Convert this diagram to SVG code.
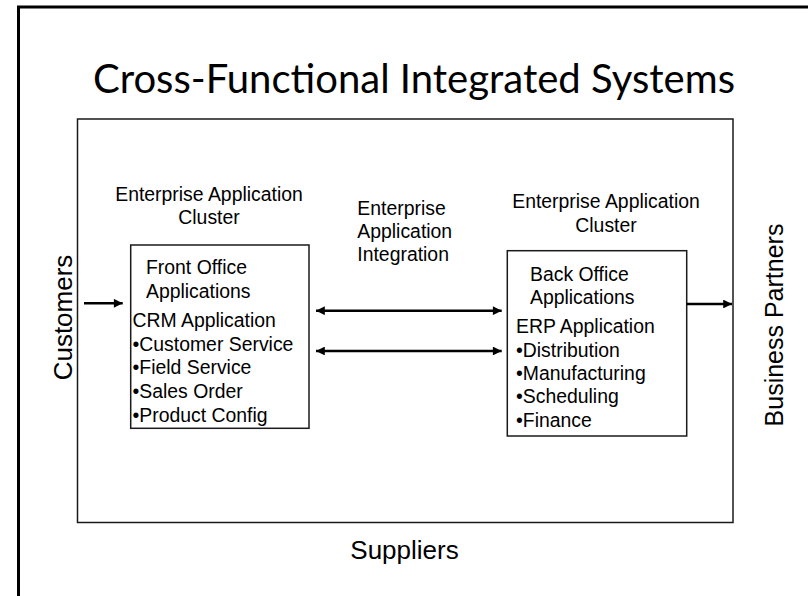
<svg xmlns="http://www.w3.org/2000/svg" width="808" height="596" viewBox="0 0 808 596">
<defs>
<style>
.t{font-family:"Liberation Sans",Arial,sans-serif;font-size:19.4px;fill:#000}
.big{font-family:"Liberation Sans",Arial,sans-serif;font-size:26px;fill:#000}
.title{font-family:Lato,"Open Sans",sans-serif;font-size:40px;fill:#000}
.box{fill:#fff;stroke:#1a1a1a;stroke-width:1.5}
.c{stroke:#000;stroke-width:2.6;fill:none}
</style>
<marker id="ah" viewBox="0 0 10 10" refX="10" refY="5" markerWidth="4" markerHeight="3.4" markerUnits="strokeWidth" orient="auto-start-reverse">
<path d="M0,0 L10,5 L0,10 z" fill="#000"/>
</marker>
</defs>
<rect width="808" height="596" fill="#fff"/>
<rect x="18.5" y="7" width="800" height="600" fill="none" stroke="#000" stroke-width="3"/>
<text class="title" x="414" y="93" text-anchor="middle" textLength="642" lengthAdjust="spacingAndGlyphs">Cross-Functional Integrated Systems</text>
<g id="frame">
<rect class="box" x="77.5" y="119" width="655.5" height="403.5"/>
</g>
<g id="front-header">
<text class="t" x="209" y="200.7" text-anchor="middle">Enterprise Application</text>
<text class="t" x="209" y="224" text-anchor="middle">Cluster</text>
</g>
<g id="back-header">
<text class="t" x="606" y="208.3" text-anchor="middle">Enterprise Application</text>
<text class="t" x="606" y="231.7" text-anchor="middle">Cluster</text>
</g>
<g id="eai-label">
<text class="t" x="357.3" y="215">Enterprise</text>
<text class="t" x="357.3" y="238.3">Application</text>
<text class="t" x="357.3" y="261">Integration</text>
</g>
<g id="front-office">
<rect class="box" x="130.7" y="245" width="178.3" height="183.3"/>
<text class="t" x="146" y="274">Front Office</text>
<text class="t" x="146" y="297.7">Applications</text>
<text class="t" x="132.5" y="326.7">CRM Application</text>
<text class="t" x="132.5" y="350.7">•Customer Service</text>
<text class="t" x="132.5" y="374">•Field Service</text>
<text class="t" x="132.5" y="397.7">•Sales Order</text>
<text class="t" x="132.5" y="421.5">•Product Config</text>
</g>
<g id="back-office">
<rect class="box" x="507.3" y="250.7" width="179.4" height="185.3"/>
<text class="t" x="530" y="280.7">Back Office</text>
<text class="t" x="530" y="304">Applications</text>
<text class="t" x="516" y="333.3">ERP Application</text>
<text class="t" x="516" y="356.7">•Distribution</text>
<text class="t" x="516" y="380">•Manufacturing</text>
<text class="t" x="516" y="403.3">•Scheduling</text>
<text class="t" x="516" y="426.7">•Finance</text>
</g>
<g id="customers">
<text class="big" transform="translate(71.5,317.5) rotate(-90)" text-anchor="middle">Customers</text>
</g>
<g id="business-partners">
<text class="big" transform="translate(783,325) rotate(-90)" text-anchor="middle" style="font-size:25px">Business Partners</text>
</g>
<g id="suppliers">
<text class="big" x="404.5" y="559.3" text-anchor="middle">Suppliers</text>
</g>
<g id="connectors">
<line class="c" x1="84" y1="303.3" x2="122.7" y2="303.3" marker-end="url(#ah)"/>
<line class="c" x1="316" y1="310.7" x2="501.7" y2="310.7" marker-start="url(#ah)" marker-end="url(#ah)"/>
<line class="c" x1="316" y1="351" x2="501.7" y2="351" marker-start="url(#ah)" marker-end="url(#ah)"/>
<line class="c" x1="686.7" y1="304" x2="732" y2="304" marker-end="url(#ah)"/>
</g>
</svg>
